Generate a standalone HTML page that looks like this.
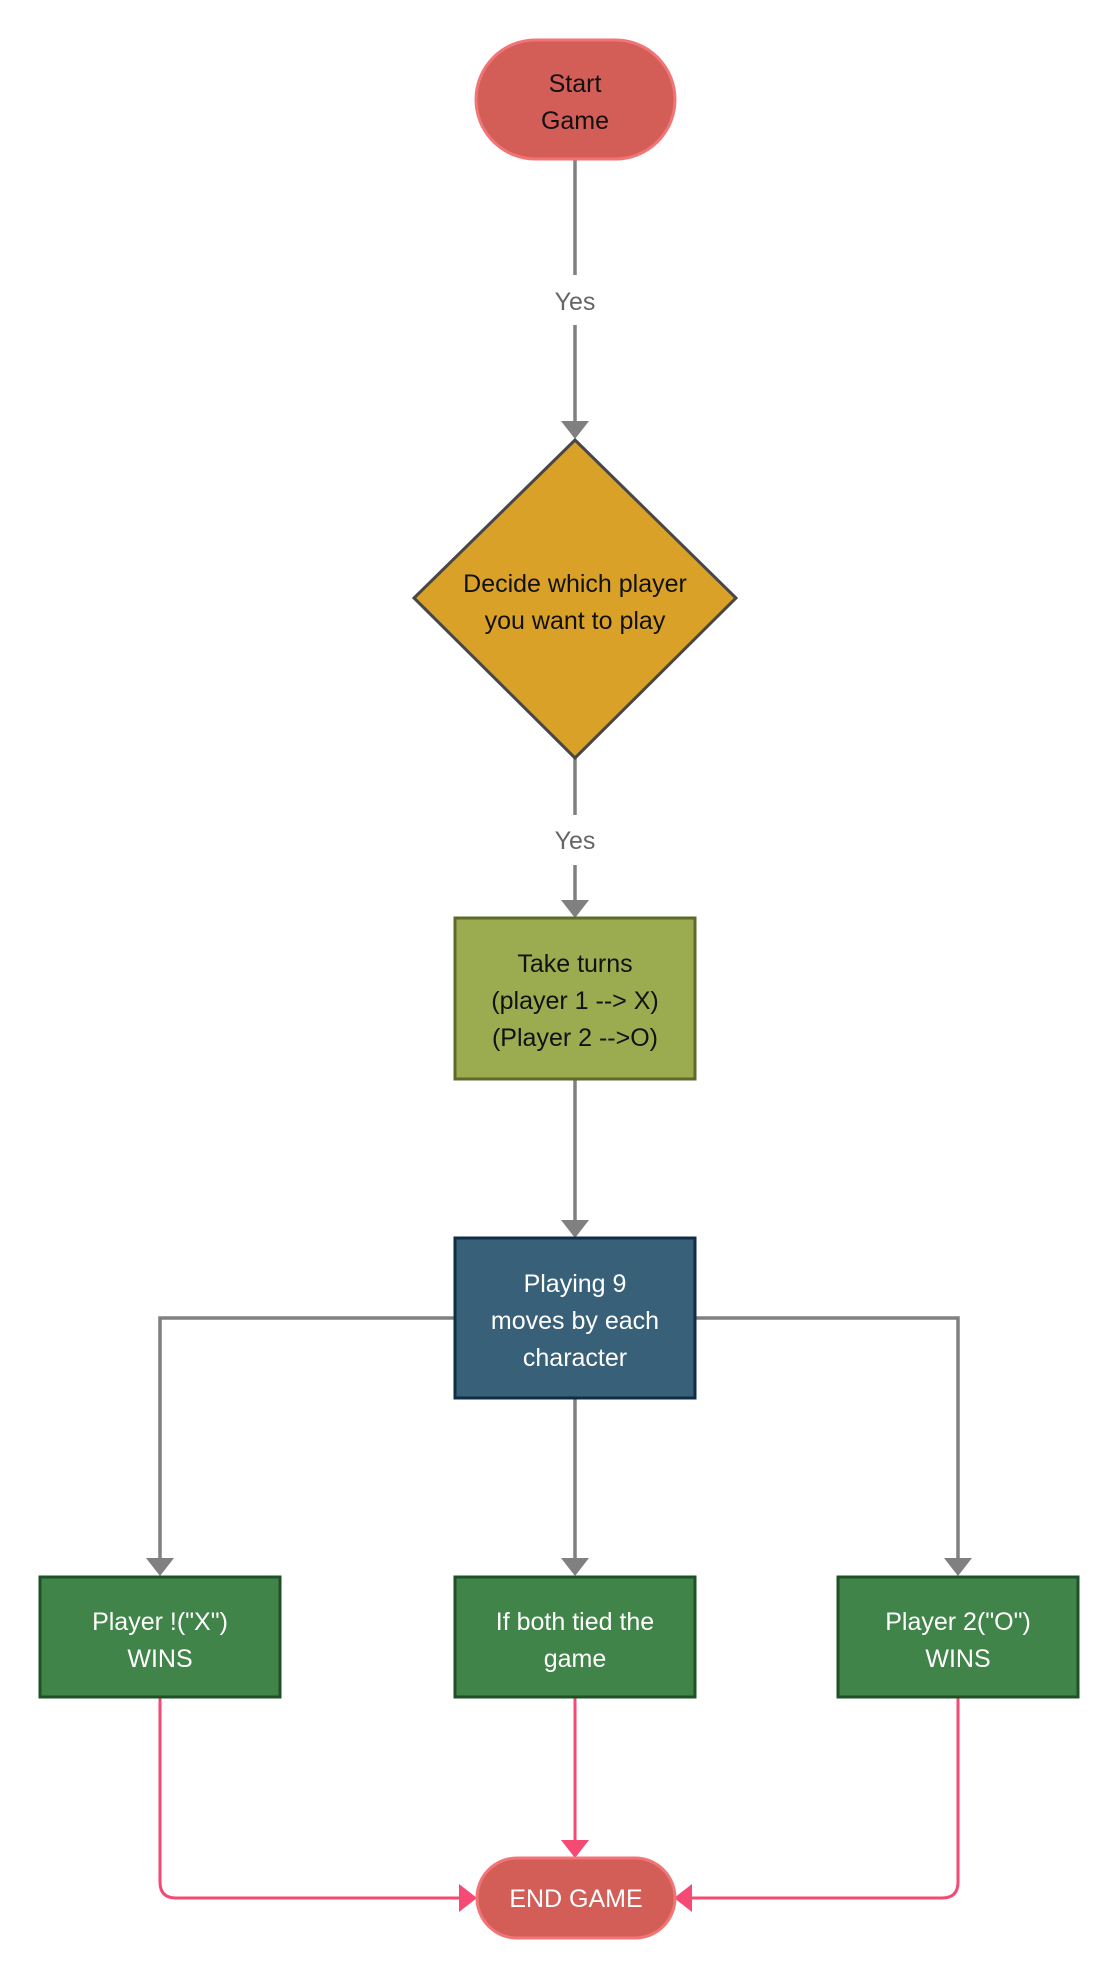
<!DOCTYPE html>
<html><head><meta charset="utf-8"><style>
html,body{margin:0;padding:0;background:#fff}
svg{display:block}
text{font-family:"Liberation Sans",sans-serif;font-size:25px;text-anchor:middle}
</style></head><body>
<svg width="1120" height="1980" viewBox="0 0 1120 1980" xmlns="http://www.w3.org/2000/svg">
<g stroke="#808080" stroke-width="3.5" fill="none">
<line x1="575" y1="160" x2="575" y2="275"/>
<line x1="575" y1="325" x2="575" y2="422"/>
<line x1="575" y1="758" x2="575" y2="815"/>
<line x1="575" y1="865" x2="575" y2="902"/>
<line x1="575" y1="1079" x2="575" y2="1222"/>
<line x1="575" y1="1398" x2="575" y2="1560"/>
<polyline points="455,1318 160,1318 160,1560"/>
<polyline points="695,1318 958,1318 958,1560"/>
</g>
<g fill="#808080">
<polygon points="561,421 589,421 575,439"/>
<polygon points="561,900 589,900 575,918"/>
<polygon points="561,1220 589,1220 575,1238"/>
<polygon points="146,1558 174,1558 160,1576"/>
<polygon points="561,1558 589,1558 575,1576"/>
<polygon points="944,1558 972,1558 958,1576"/>
</g>
<text x="575" y="310" fill="#666">Yes</text>
<text x="575" y="849" fill="#666">Yes</text>
<g stroke="#f44a74" stroke-width="3" fill="none">
<line x1="575" y1="1697" x2="575" y2="1842"/>
<path d="M160 1697 V1882 Q160 1898 176 1898 H460"/>
<path d="M958 1697 V1882 Q958 1898 942 1898 H690"/>
</g>
<g fill="#f44a74">
<polygon points="561,1840 589,1840 575,1858"/>
<polygon points="459,1884 459,1912 477,1898"/>
<polygon points="692,1884 692,1912 674,1898"/>
</g>
<rect x="476" y="40" width="199" height="119" rx="59.5" fill="#d35e58" stroke="#f27474" stroke-width="3"/>
<text x="575" y="92" fill="#111">Start</text>
<text x="575" y="129" fill="#111">Game</text>
<polygon points="575,440 736,598 575,758 414,598" fill="#d9a128" stroke="#474747" stroke-width="3"/>
<text x="575" y="592" fill="#111">Decide which player</text>
<text x="575" y="629" fill="#111">you want to play</text>
<rect x="455" y="918" width="240" height="161" fill="#9aab50" stroke="#5f6a2a" stroke-width="3"/>
<text x="575" y="972" fill="#111">Take turns</text>
<text x="575" y="1009" fill="#111">(player 1 --&gt; X)</text>
<text x="575" y="1046" fill="#111">(Player 2 --&gt;O)</text>
<rect x="455" y="1238" width="240" height="160" fill="#386079" stroke="#0f2d45" stroke-width="3"/>
<text x="575" y="1292" fill="#fff">Playing 9</text>
<text x="575" y="1329" fill="#fff">moves by each</text>
<text x="575" y="1366" fill="#fff">character</text>
<g fill="#418449" stroke="#1e5126" stroke-width="3">
<rect x="40" y="1577" width="240" height="120"/>
<rect x="455" y="1577" width="240" height="120"/>
<rect x="838" y="1577" width="240" height="120"/>
</g>
<text x="160" y="1630" fill="#fff">Player !("X")</text>
<text x="160" y="1667" fill="#fff">WINS</text>
<text x="575" y="1630" fill="#fff">If both tied the</text>
<text x="575" y="1667" fill="#fff">game</text>
<text x="958" y="1630" fill="#fff">Player 2("O")</text>
<text x="958" y="1667" fill="#fff">WINS</text>
<rect x="477" y="1858" width="198" height="80" rx="40" fill="#d35e58" stroke="#f27474" stroke-width="3"/>
<text x="576" y="1907" fill="#fff">END GAME</text>
</svg>
</body></html>
